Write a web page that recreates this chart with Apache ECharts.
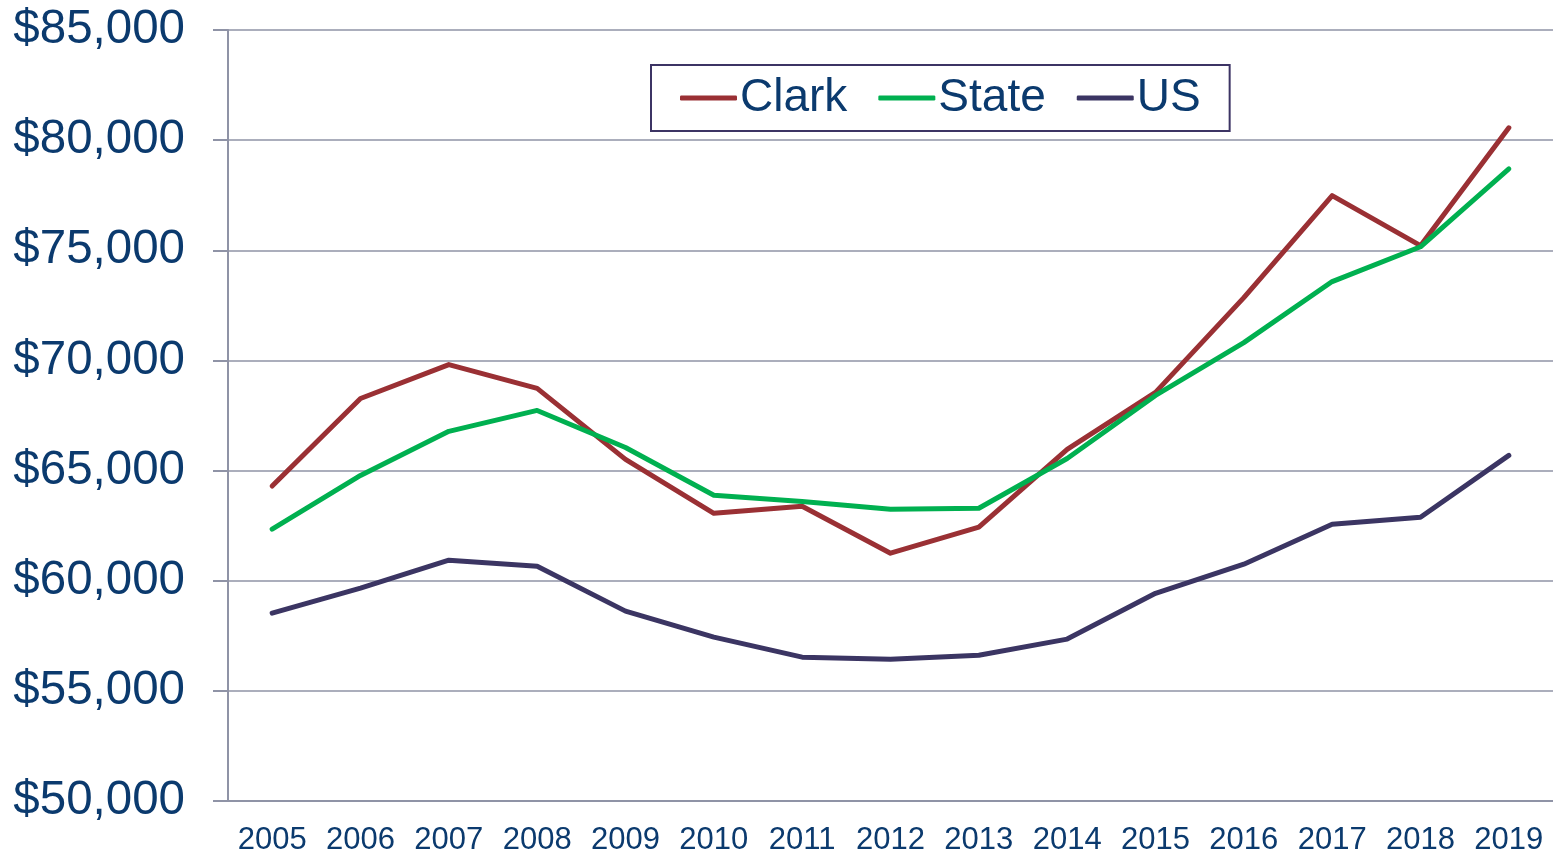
<!DOCTYPE html>
<html>
<head>
<meta charset="utf-8">
<script src="https://cdn.jsdelivr.net/npm/echarts@6/dist/echarts.min.js"></script>
<style>
  html, body { margin: 0; padding: 0; background: #fff; }
  #chart { width: 1553px; height: 856px; }
</style>
</head>
<body>
<div id="chart"></div>
<script>
const years = ['2005', '2006', '2007', '2008', '2009', '2010', '2011', '2012', '2013', '2014', '2015', '2016', '2017', '2018', '2019'];
const clark = [64300, 68270, 69810, 68730, 65510, 63060, 63380, 61250, 62430, 65960, 68550, 72850, 77480, 75210, 80560];
const state = [62340, 64780, 66780, 67730, 66050, 63880, 63600, 63240, 63290, 65550, 68410, 70810, 73580, 75160, 78700];
const us = [58530, 59660, 60930, 60660, 58620, 57440, 56530, 56440, 56620, 57350, 59430, 60750, 62560, 62880, 65690];

const textColor = '#0b3a6e';
const gridColor = '#8f93a6';
const font = 'Liberation Sans, Arial, sans-serif';

const makeSeries = (name, data, color) => ({
  name: name,
  type: 'line',
  data: data,
  symbol: 'none',
  lineStyle: { color: color, width: 5, cap: 'round', join: 'round' },
  itemStyle: { color: color },
  animation: false
});

const getOption = () => {
  return {
    textStyle: { fontFamily: font },
    grid: { left: 228, right: 0, top: 30, bottom: 54 },
    legend: {
      left: 651,
      top: 65,
      padding: [10, 29, 10, 29],
      icon: 'roundRect',
      itemWidth: 57,
      itemHeight: 5,
      itemGap: 31,
      borderColor: '#3c3464',
      borderWidth: 2,
      textStyle: { color: textColor, fontSize: 46, fontFamily: font, padding: [2, 0, 0, -2] },
      data: ['Clark', 'State', 'US']
    },
    xAxis: {
      type: 'category',
      data: years,
      boundaryGap: true,
      axisLine: { lineStyle: { color: gridColor, width: 2 } },
      axisTick: { length: 10, lineStyle: { color: gridColor, width: 2 } },
      axisLabel: { color: textColor, fontSize: 31, margin: 24, interval: 0, fontFamily: font }
    },
    yAxis: {
      type: 'value',
      min: 50000,
      max: 85000,
      interval: 5000,
      axisLine: { show: true, lineStyle: { color: gridColor, width: 2 } },
      axisTick: { show: true, length: 15, lineStyle: { color: gridColor, width: 2 } },
      splitLine: { lineStyle: { color: gridColor, width: 1.5 } },
      axisLabel: {
        color: textColor,
        fontSize: 47.5,
        margin: 43,
        fontFamily: font,
        formatter: v => '$' + v.toLocaleString('en-US')
      }
    },
    series: [
      makeSeries('Clark', clark, '#9a3034'),
      makeSeries('State', state, '#00b050'),
      makeSeries('US', us, '#3b3563')
    ]
  };
};

window.addEventListener('load', function() {
  const chart = echarts.init(document.getElementById('chart'));
  chart.setOption(getOption());
});
</script>
</body>
</html>
